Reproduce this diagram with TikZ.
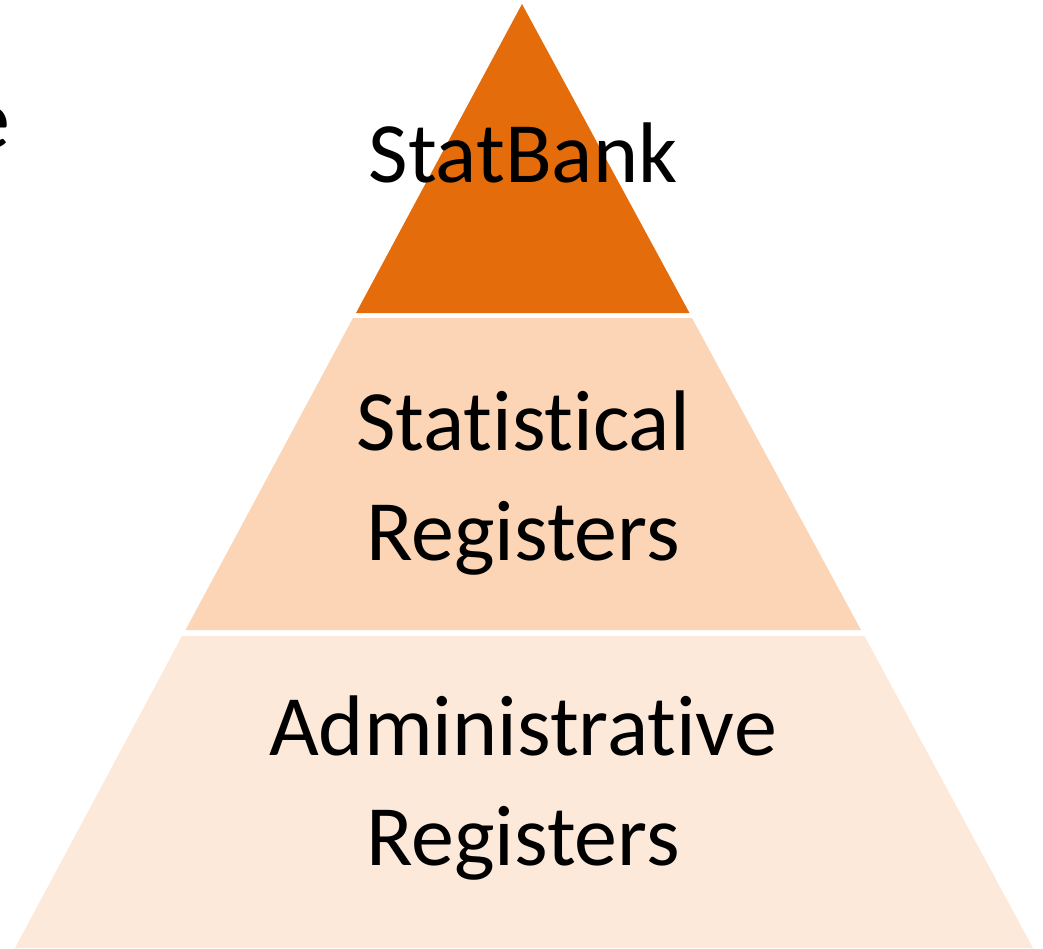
\documentclass[tikz,border=0pt]{standalone}
\usepackage{fontspec}
\setmainfont{Carlito}[Ligatures=NoCommon]
\definecolor{bankorange}{HTML}{E46C0A}
\definecolor{statpeach}{HTML}{FBD5B5}
\definecolor{adminpeach}{HTML}{FDE9D9}
\begin{document}
\begin{tikzpicture}[x=1pt,y=-1pt,
  tier/.style={font=\fontsize{86}{110}\selectfont, align=center, inner sep=0pt, anchor=base}]
\useasboundingbox (0,0) rectangle (1043,948);
% Draw tiers
\fill[adminpeach] (182,636) -- (864.5,636) -- (1033,948) -- (15,948) -- cycle;
\fill[statpeach] (353,318) -- (692,318) -- (861,630) -- (185.5,630) -- cycle;
\fill[bankorange] (522,4) -- (689.5,313) -- (356,313) -- cycle;
% Draw labels
\node[tier] (bank) at (523,182) {StatBank};
\node[tier] (stat) at (523,560) {Statistical\\Registers};
\node[tier] (admin) at (523,865) {Administrative\\Registers};
\node[tier, anchor=base east] (cut) at (10,148) {e};
\end{tikzpicture}
\end{document}
